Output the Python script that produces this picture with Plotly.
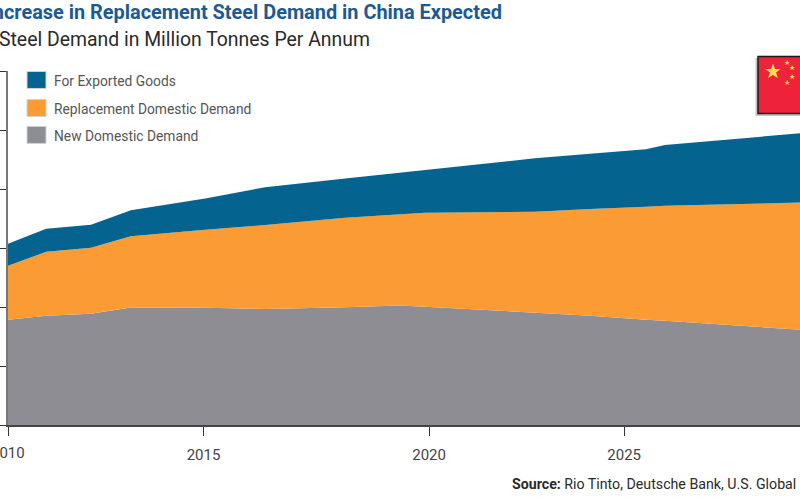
import plotly.graph_objects as go

years = [2010, 2010.93, 2012.02, 2012.99, 2014.80, 2016.26, 2018.21, 2019.54,
         2020.15, 2022.83, 2024.17, 2025.53, 2025.99, 2029.28]
new_domestic = [178.5, 185.3, 188.7, 199.3, 198.8, 196.6, 199.7, 202.7,
                200.5, 190.9, 185.3, 178.5, 176.8, 161.6]
replacement = [91.4, 108.3, 111.6, 120.5, 132.0, 142.2, 151.4, 154.3,
               159.1, 170.4, 181.0, 191.5, 194.6, 215.4]
exported = [37.2, 38.9, 39.0, 44.0, 53.0, 64.2, 66.8, 70.6,
            72.7, 90.8, 93.6, 97.3, 103.2, 117.4]

x_tick_positions = [2010, 2014.76, 2020.25, 2025]
x_tick_labels = ["", "2015", "2020", "2025"]
first_year_label = "2010"
y_ticks = [0, 100, 200, 300, 400, 500, 600]

title = "Increase in Replacement Steel Demand in China Expected"
subtitle = "Steel Demand in Million Tonnes Per Annum"
source_label = "<b>Source:</b> Rio Tinto, Deutsche Bank, U.S. Global"
legend_labels = ["For Exported Goods", "Replacement Domestic Demand", "New Domestic Demand"]

BLUE, ORANGE, GRAY = "#05648f", "#fa9c33", "#8d8d93"
NARROW = "Roboto"
W, H = 800, 500
L, R, T, B = 8, 0, 71, 74.5
pw, ph = W - L - R, H - T - B


def px(x):
    return (x - L) / pw


def py(y):
    return 1 - (y - T) / ph


fig = go.Figure()
for name, vals, col in [(legend_labels[2], new_domestic, GRAY),
                        (legend_labels[1], replacement, ORANGE),
                        (legend_labels[0], exported, BLUE)]:
    fig.add_trace(go.Scatter(x=years, y=vals, name=name, stackgroup="one", mode="lines",
                             line=dict(width=0, color=col), fillcolor=col))

shapes = []
anns = []


def text(x, y, s, size, color, anchor="left", family=NARROW):
    anns.append(dict(xref="paper", yref="paper", x=px(x), y=py(y), text=s, showarrow=False,
                     xanchor=anchor, yanchor="middle",
                     font=dict(family=family, size=size, color=color)))


# Title block
text(504, 12, "<b>" + title + "</b>", 19.9, "#1d5a8f", "right")
text(372, 39, subtitle, 19.4, "#2a2a2a", "right")
text(798, 485, source_label, 14.2, "#2a2a2a", "right")
text(8, 454, first_year_label, 15, "#444444", "center")

# Legend
for label, col, yc in zip(legend_labels, [BLUE, ORANGE, GRAY], [80, 108, 135]):
    shapes.append(dict(type="rect", xref="paper", yref="paper", x0=px(27), x1=px(46),
                       y0=py(yc - 8.5), y1=py(yc + 8.5), fillcolor=col,
                       line=dict(color="#c8d4da", width=1), layer="above"))
    text(52, yc + 1, label, 13.8, "#555555")

# Flag
shapes.append(dict(type="rect", xref="paper", yref="paper", x0=px(755.5), x1=px(803),
                   y0=py(58), y1=py(116), fillcolor="#c4c4c4", line=dict(width=0), layer="above"))
shapes.append(dict(type="rect", xref="paper", yref="paper", x0=px(758), x1=px(803),
                   y0=py(56.5), y1=py(113.5), fillcolor="#ee2238",
                   line=dict(color="#1a1a1a", width=1.5), layer="above"))
text(772.7, 71, "★", 20, "#ffe14d", "center", "DejaVu Sans")
for sx, sy in [(786.5, 63), (792, 68), (792, 77), (786.5, 83)]:
    text(sx, sy, "★", 7, "#ffe14d", "center", "DejaVu Sans")

fig.update_layout(
    width=W, height=H, margin=dict(l=L, r=R, t=T, b=B, pad=0),
    paper_bgcolor="white", plot_bgcolor="white", showlegend=False,
    shapes=shapes, annotations=anns,
    xaxis=dict(range=[2010, 2029.28], tickmode="array", tickvals=x_tick_positions,
               ticktext=x_tick_labels, ticks="outside", ticklen=9, tickwidth=1.2,
               tickcolor="#333333", showgrid=False, zeroline=False, showline=True,
               linecolor="#444444", linewidth=1.5, ticklabelstandoff=6,
               tickfont=dict(family=NARROW, size=15, color="#444444")),
    yaxis=dict(range=[0, 600], tickmode="array", tickvals=y_ticks, ticks="outside", ticklen=8,
               tickwidth=1.2, tickcolor="#333333", showticklabels=False, showgrid=False,
               zeroline=False, showline=True, linecolor="#777777", linewidth=2),
)
fig.write_html("out.html", config=dict(displayModeBar=False),
               post_script="document.body.style.margin='0';")
